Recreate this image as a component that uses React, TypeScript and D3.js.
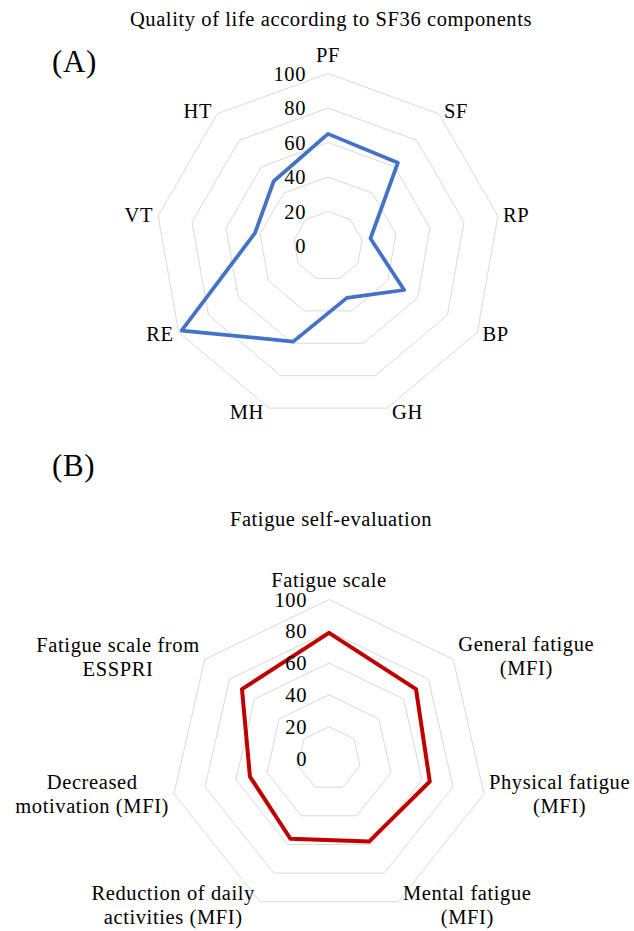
import { useEffect, useRef } from 'react'
import * as d3 from 'd3'

// SF36 components, clockwise from the top
const sf36Axes = ['PF', 'SF', 'RP', 'BP', 'GH', 'MH', 'RE', 'VT', 'HT']
const sf36Values = [65, 63, 25, 51, 32, 59, 98, 43, 49]

// Fatigue items, one entry per axis, split into label lines
const fatigueAxes = [
  ['Fatigue scale'],
  ['General fatigue', '(MFI)'],
  ['Physical fatigue', '(MFI)'],
  ['Mental fatigue', '(MFI)'],
  ['Reduction of daily', 'activities (MFI)'],
  ['Decreased', 'motivation (MFI)'],
  ['Fatigue scale from', 'ESSPRI'],
]
const fatigueValues = [79, 70, 65, 58, 56, 51, 70]

const ringTicks = [20, 40, 60, 80, 100]
const tickLabels = [0, 20, 40, 60, 80, 100]

const W = 634
const H = 931
const FONT = 'Liberation Serif, Tinos, Times New Roman, serif'
const FS = 20.5
const LS = 0.6

interface RadarOpts {
  cx: number
  cy: number
  radius: number
  labels: string[][]
  values: number[]
  color: string
  strokeWidth: number
}

function drawRadar(svg: d3.Selection<SVGSVGElement, unknown, null, undefined>, o: RadarOpts) {
  const n = o.labels.length
  const r = d3.scaleLinear().domain([0, 100]).range([0, o.radius])
  const angle = (i: number) => (i * 2 * Math.PI) / n

  const g = svg.append('g').attr('transform', `translate(${o.cx},${o.cy})`)

  const ring = d3.lineRadial<number>()
    .angle((_, i) => angle(i))
    .curve(d3.curveLinearClosed)

  // grid polygons
  ringTicks.forEach(t => {
    g.append('path')
      .attr('d', ring.radius(() => r(t))(d3.range(n)))
      .attr('fill', 'none')
      .attr('stroke', '#d9d9d9')
      .attr('stroke-width', 1)
  })

  // data polygon
  const line = d3.lineRadial<number>()
    .angle((_, i) => angle(i))
    .radius(d => r(d))
    .curve(d3.curveLinearClosed)

  g.append('path')
    .attr('d', line(o.values))
    .attr('fill', 'none')
    .attr('stroke', o.color)
    .attr('stroke-width', o.strokeWidth)
    .attr('stroke-linejoin', 'round')

  // value labels along the top axis
  g.selectAll('.tick')
    .data(tickLabels)
    .enter().append('text')
    .attr('x', -22)
    .attr('y', d => -r(d) + 7)
    .attr('text-anchor', 'end')
    .attr('font-family', FONT)
    .attr('font-size', FS)
    .attr('letter-spacing', LS)
    .attr('fill', '#000')
    .text(d => d)

  // category labels
  o.labels.forEach((lines, i) => {
    const a = angle(i)
    const sin = Math.sin(a)
    const cos = Math.cos(a)
    const vx = r(100) * sin
    const vy = -r(100) * cos

    const t = g.append('text')
      .attr('text-anchor', 'middle')
      .attr('font-family', FONT)
      .attr('font-size', FS)
      .attr('letter-spacing', LS)
      .attr('fill', '#000')
    lines.forEach((s, k) => {
      t.append('tspan').attr('x', 0).attr('dy', k === 0 ? 0 : 24).text(s)
    })

    const bb = (t.node() as SVGTextElement).getBBox()
    let bx: number
    let by: number
    if (Math.abs(sin) < 0.1) {
      bx = vx
      by = vy - 8 - bb.height / 2
    } else if (sin > 0) {
      bx = vx + 5 + bb.width / 2
      by = vy - 4 * cos
    } else {
      bx = vx - 5 - bb.width / 2
      by = vy - 4 * cos
    }
    const ox = bx - (bb.x + bb.width / 2)
    const oy = by - (bb.y + bb.height / 2)
    t.attr('transform', `translate(${ox},${oy})`)
  })
}

export default function App() {
  const svgRef = useRef<SVGSVGElement>(null)

  useEffect(() => {
    if (!svgRef.current) return
    const svg = d3.select(svgRef.current)
    svg.selectAll('*').remove()

    svg.append('rect').attr('width', W).attr('height', H).attr('fill', '#fff')

    const addText = (txt: string, x: number, y: number, size: number, anchor = 'middle') =>
      svg.append('text')
        .attr('x', x)
        .attr('y', y)
        .attr('text-anchor', anchor)
        .attr('font-family', FONT)
        .attr('font-size', size)
        .attr('letter-spacing', LS)
        .attr('fill', '#000')
        .text(txt)

    addText('Quality of life according to SF36 components', 331, 26, FS)
    addText('(A)', 52, 72, 31, 'start')
    addText('(B)', 52, 476, 31, 'start')
    addText('Fatigue self-evaluation', 331, 526, FS)

    drawRadar(svg, {
      cx: 328,
      cy: 246,
      radius: 172.5,
      labels: sf36Axes.map(d => [d]),
      values: sf36Values,
      color: '#4472c4',
      strokeWidth: 3.75,
    })

    drawRadar(svg, {
      cx: 329,
      cy: 758.5,
      radius: 159,
      labels: fatigueAxes,
      values: fatigueValues,
      color: '#c00000',
      strokeWidth: 4,
    })
  }, [])

  return (
    <svg
      ref={svgRef}
      width={W}
      height={H}
      style={{ position: 'absolute', left: 0, top: 0, display: 'block' }}
    />
  )
}
